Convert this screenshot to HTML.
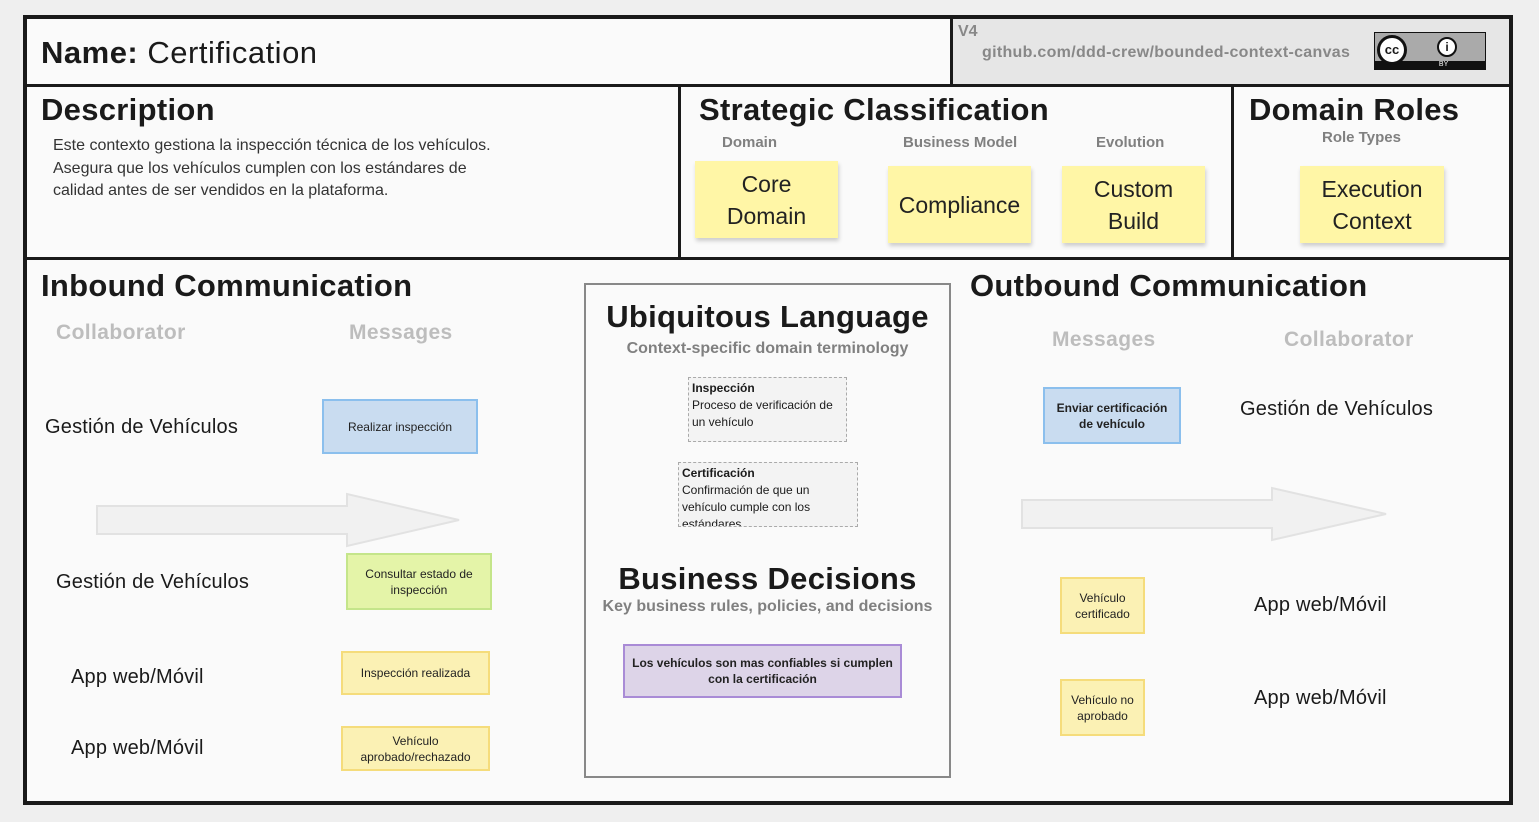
<!DOCTYPE html>
<html><head><meta charset="utf-8"><style>
body{margin:0;width:1539px;height:822px;background:#efefef;font-family:"Liberation Sans","DejaVu Sans",sans-serif;position:relative;overflow:hidden;color:#1a1a1a}
.a{position:absolute}
.frame{left:23px;top:15px;width:1482px;height:782px;border:4px solid #1a1a1a;background:#fafafa}
.hl{position:absolute;background:#1a1a1a}
h2{position:absolute;margin:0;font-weight:bold;font-size:31px;color:#1a1a1a;white-space:nowrap;letter-spacing:0.3px}
.sub{position:absolute;font-weight:bold;color:#808080;font-size:15px;white-space:nowrap}
.grey{position:absolute;font-weight:bold;color:#bdbdbd;font-size:21px;white-space:nowrap;letter-spacing:0.4px}
.st{position:absolute;background:#fff6a6;box-shadow:1px 3px 4px rgba(0,0,0,.18);display:flex;align-items:center;justify-content:center;text-align:center;font-size:23px;line-height:32px;color:#222}
.m{position:absolute;display:flex;align-items:center;justify-content:center;text-align:center;font-size:12px;line-height:16px;color:#222;box-sizing:border-box}
.blue{background:#c9dcf0;border:2px solid #8bbfed}
.green{background:#e4f4a8;border:2px solid #c4e58a}
.yel{background:#fbf1b4;border:2px solid #f5dc7b}
.col{position:absolute;font-size:20px;color:#1a1a1a;white-space:nowrap;letter-spacing:0.2px}
.term{position:absolute;border:1.5px dashed #aaa;background:#f3f3f3;font-size:12px;line-height:17px;padding:2px 3px;box-sizing:border-box;overflow:hidden}
</style></head><body>
<div class="a frame"></div>
<div class="a" style="left:953px;top:19px;width:556px;height:66px;background:#e6e6e6"></div>
<div class="hl" style="left:950px;top:19px;width:3px;height:67px"></div>
<div class="hl" style="left:27px;top:84px;width:1482px;height:3px"></div>
<div class="hl" style="left:678px;top:86px;width:3px;height:174px"></div>
<div class="hl" style="left:1231px;top:86px;width:3px;height:174px"></div>
<div class="hl" style="left:27px;top:257px;width:1482px;height:3px"></div>

<div class="a" style="left:41px;top:35px;font-size:31px;white-space:nowrap;letter-spacing:0.5px"><b>Name:</b> Certification</div>
<div class="a" style="left:958px;top:23px;font-size:16px;font-weight:bold;color:#888">V4</div>
<div class="a" style="left:982px;top:44px;font-size:16px;font-weight:bold;color:#888;white-space:nowrap;letter-spacing:0.3px">github.com/ddd-crew/bounded-context-canvas</div>
<div class="a" style="left:1374px;top:32px;width:112px;height:38px;background:#aaa;border:1px solid #111;box-sizing:border-box">
 <div class="a" style="left:0;bottom:0;width:110px;height:8px;background:#111;color:#fff;font-size:7px;text-align:center;line-height:8px">&nbsp;&nbsp;&nbsp;&nbsp;&nbsp;&nbsp;&nbsp;&nbsp;&nbsp;&nbsp;&nbsp;&nbsp;&nbsp;&nbsp;BY</div>
 <div class="a" style="left:2px;top:2px;width:30px;height:30px;border-radius:50%;background:#fff;border:3px solid #111;box-sizing:border-box;font-weight:bold;font-size:13px;line-height:24px;text-align:center">cc</div>
 <div class="a" style="left:62px;top:4px;width:20px;height:20px;border-radius:50%;background:#fff;border:2px solid #111;box-sizing:border-box;font-weight:bold;font-size:12px;line-height:16px;text-align:center">i</div>
</div>

<h2 style="left:41px;top:92px">Description</h2>
<div class="a" style="left:53px;top:135px;font-size:16px;line-height:22.5px;color:#333">Este contexto gestiona la inspección técnica de los vehículos.<br>Asegura que los vehículos cumplen con los estándares de<br>calidad antes de ser vendidos en la plataforma.</div>

<h2 style="left:699px;top:92px">Strategic Classification</h2>
<div class="sub" style="left:722px;top:134px">Domain</div>
<div class="sub" style="left:903px;top:134px">Business Model</div>
<div class="sub" style="left:1096px;top:134px">Evolution</div>
<div class="st" style="left:695px;top:161px;width:143px;height:77px">Core<br>Domain</div>
<div class="st" style="left:888px;top:166px;width:143px;height:77px">Compliance</div>
<div class="st" style="left:1062px;top:166px;width:143px;height:77px">Custom<br>Build</div>

<h2 style="left:1249px;top:92px">Domain Roles</h2>
<div class="sub" style="left:1322px;top:129px">Role Types</div>
<div class="st" style="left:1300px;top:166px;width:144px;height:77px">Execution<br>Context</div>

<h2 style="left:41px;top:268px">Inbound Communication</h2>
<div class="grey" style="left:56px;top:321px">Collaborator</div>
<div class="grey" style="left:349px;top:321px">Messages</div>
<div class="col" style="left:45px;top:416px">Gestión de Vehículos</div>
<div class="m blue" style="left:322px;top:399px;width:156px;height:55px">Realizar inspección</div>
<svg class="a" style="left:95px;top:492px" width="370" height="56"><polygon points="2,14 252,14 252,2 364,28 252,54 252,42 2,42" fill="#f1f1f1" stroke="#e2e2e2" stroke-width="2"/></svg>
<div class="col" style="left:56px;top:571px">Gestión de Vehículos</div>
<div class="m green" style="left:346px;top:553px;width:146px;height:57px">Consultar estado de<br>inspección</div>
<div class="col" style="left:71px;top:666px">App web/Móvil</div>
<div class="m yel" style="left:341px;top:651px;width:149px;height:44px">Inspección realizada</div>
<div class="col" style="left:71px;top:737px">App web/Móvil</div>
<div class="m yel" style="left:341px;top:726px;width:149px;height:45px">Vehículo<br>aprobado/rechazado</div>

<div class="a" style="left:584px;top:283px;width:367px;height:495px;border:2px solid #888;box-sizing:border-box;background:#fafafa"></div>
<h2 style="left:584px;width:367px;text-align:center;top:299px">Ubiquitous Language</h2>
<div class="sub" style="left:584px;width:367px;text-align:center;top:340px;font-size:16px">Context-specific domain terminology</div>
<div class="term" style="left:688px;top:377px;width:159px;height:65px"><b>Inspección</b><br>Proceso de verificación de un vehículo</div>
<div class="term" style="left:678px;top:462px;width:180px;height:65px"><b>Certificación</b><br>Confirmación de que un vehículo cumple con los estándares</div>
<h2 style="left:584px;width:367px;text-align:center;top:561px">Business Decisions</h2>
<div class="sub" style="left:584px;width:367px;text-align:center;top:598px;font-size:16px">Key business rules, policies, and decisions</div>
<div class="m" style="left:623px;top:644px;width:279px;height:54px;background:#ddd4e8;border:2px solid #a98bd6;font-weight:bold">Los vehículos son mas confiables si cumplen<br>con la certificación</div>

<h2 style="left:970px;top:268px">Outbound Communication</h2>
<div class="grey" style="left:1052px;top:328px">Messages</div>
<div class="grey" style="left:1284px;top:328px">Collaborator</div>
<div class="m blue" style="left:1043px;top:387px;width:138px;height:57px;font-weight:bold">Enviar certificación<br>de vehículo</div>
<div class="col" style="left:1240px;top:398px">Gestión de Vehículos</div>
<svg class="a" style="left:1020px;top:486px" width="372" height="58"><polygon points="2,14 252,14 252,2 366,28 252,54 252,42 2,42" fill="#f1f1f1" stroke="#e2e2e2" stroke-width="2"/></svg>
<div class="m yel" style="left:1060px;top:577px;width:85px;height:57px">Vehículo<br>certificado</div>
<div class="col" style="left:1254px;top:594px">App web/Móvil</div>
<div class="m yel" style="left:1060px;top:679px;width:85px;height:57px">Vehículo no<br>aprobado</div>
<div class="col" style="left:1254px;top:687px">App web/Móvil</div>
</body></html>
